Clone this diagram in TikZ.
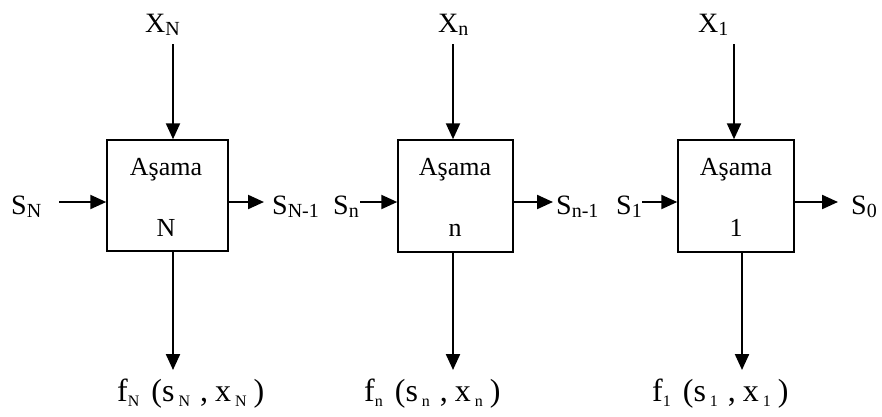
\documentclass[tikz,border=0pt]{standalone}
\usepackage{fontspec}
\setmainfont{Liberation Serif}
\usetikzlibrary{arrows.meta}
\newcommand{\lsub}[1]{\raisebox{-3pt}{\fontsize{20}{20}\selectfont #1}}
\newcommand{\fsub}[1]{\raisebox{-5pt}{\fontsize{16}{16}\selectfont #1}}
\begin{document}
\begin{tikzpicture}[x=1pt,y=-1pt,
  stage/.style={draw,line width=1.5pt,inner sep=0pt},
  lbl/.style={inner sep=0pt,font=\fontsize{28}{32}\selectfont},
  inlbl/.style={inner sep=0pt,font=\fontsize{26}{30}\selectfont},
  flbl/.style={inner sep=0pt,font=\fontsize{32}{34}\selectfont},
  arr/.style={line width=2.2pt,-{Triangle[length=16pt,width=14pt]}}]
\useasboundingbox (0,0) rectangle (882,416);
% boxes
\node[stage,minimum width=121pt,minimum height=111pt] (b1) at (167.5,195.5) {};
\node[stage,minimum width=115pt,minimum height=112pt] (b2) at (455.5,196) {};
\node[stage,minimum width=116pt,minimum height=112pt] (b3) at (736,196) {};
% inner text
\node[inlbl,anchor=base] (a1) at (166,175) {Aşama};
\node[inlbl,anchor=base] (k1) at (166,236) {N};
\node[inlbl,anchor=base] (a2) at (455,175) {Aşama};
\node[inlbl,anchor=base] (k2) at (455,236) {n};
\node[inlbl,anchor=base] (a3) at (736,175) {Aşama};
\node[inlbl,anchor=base] (k3) at (736,236) {1};
% top labels
\node[lbl,anchor=base west] (x1) at (145,32) {X\lsub{N}};
\node[lbl,anchor=base west] (x2) at (438,32) {X\lsub{n}};
\node[lbl,anchor=base west] (x3) at (698,32) {X\lsub{1}};
\coordinate (t1) at (173,44);
\coordinate (t2) at (453,44);
\coordinate (t3) at (734,44);
\draw[arr] (t1) -- (t1 |- b1.north);
\draw[arr] (t2) -- (t2 |- b2.north);
\draw[arr] (t3) -- (t3 |- b3.north);
% bottom
\coordinate (d1) at (173,370);
\coordinate (d2) at (453,370);
\coordinate (d3) at (742,370);
\draw[arr] (d1 |- b1.south) -- (d1);
\draw[arr] (d2 |- b2.south) -- (d2);
\draw[arr] (d3 |- b3.south) -- (d3);
\node[flbl,anchor=base west] (f1) at (117,401) {f\fsub{N}\hspace{12pt}(s\hspace{4pt}\fsub{N}\hspace{10pt},\hspace{7pt}x\hspace{4pt}\fsub{N}\hspace{7pt})};
\node[flbl,anchor=base west] (f2) at (364,401) {f\fsub{n}\hspace{12pt}(s\hspace{4pt}\fsub{n}\hspace{10pt},\hspace{7pt}x\hspace{4pt}\fsub{n}\hspace{7pt})};
\node[flbl,anchor=base west] (f3) at (652,401) {f\fsub{1}\hspace{12pt}(s\hspace{4pt}\fsub{1}\hspace{10pt},\hspace{7pt}x\hspace{4pt}\fsub{1}\hspace{7pt})};
% horizontal
\node[lbl,anchor=base west] (sN) at (11,214) {S\lsub{N}};
\node[lbl,anchor=base west] (sN1) at (272,214) {S\lsub{N-1}};
\node[lbl,anchor=base west] (sn) at (333,214) {S\lsub{n}};
\node[lbl,anchor=base west] (sn1) at (556,214) {S\lsub{n-1}};
\node[lbl,anchor=base west] (s1) at (616,214) {S\lsub{1}};
\node[lbl,anchor=base west] (s0) at (851,214) {S\lsub{0}};
\coordinate (i1) at (59,202);
\coordinate (i2) at (360,202);
\coordinate (i3) at (642,202);
\coordinate (o1) at (264,202);
\coordinate (o2) at (553,202);
\coordinate (o3) at (838,202);
\draw[arr] (i1) -- (i1 -| b1.west);
\draw[arr] (i2) -- (i2 -| b2.west);
\draw[arr] (i3) -- (i3 -| b3.west);
\draw[arr] (o1 -| b1.east) -- (o1);
\draw[arr] (o2 -| b2.east) -- (o2);
\draw[arr] (o3 -| b3.east) -- (o3);
\end{tikzpicture}
\end{document}
